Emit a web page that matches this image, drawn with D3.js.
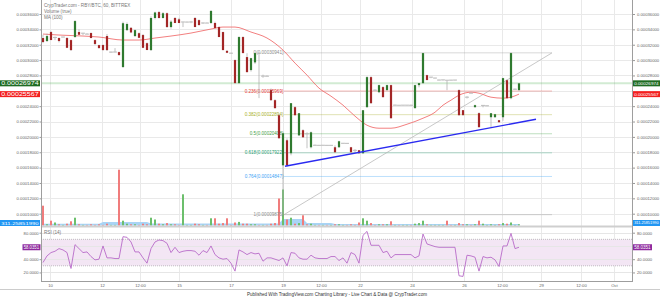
<!DOCTYPE html>
<html>
<head>
<meta charset="utf-8">
<script src="https://cdn.jsdelivr.net/npm/d3@7"></script>
<style>
  body { margin: 0; background: #fff; }
  svg { display: block; font-family: "Liberation Sans", Arial, sans-serif; }
</style>
</head>
<body>
<div id="chart"></div>
<script>
// prices are in satoshi (1e-8 BTC), one candle per slot: [open, high, low, close]
const candles = [
  [32870,33300,32200,32350],[32480,33450,32350,33130],[33650,33800,32600,32610],[32900,33050,32600,32950],
  [32870,32950,32300,32480],[32990,33050,32950,33000],[32870,33000,31560,31600],[32600,32700,31200,31300],
  [33000,35200,32900,35080],[33650,34000,33250,33300],[33400,33550,33250,33500],[33400,33500,33350,33380],
  [33520,33600,32850,32870],[32600,32700,31950,32100],[31950,32000,31500,31560],[31960,32050,31250,31300],
  [33130,33400,31200,31300],[31040,31100,30950,31040],[31040,31560,31000,31050],[31040,31100,30600,30650],
  [29090,35000,29000,34800],[33900,34900,33800,34700],[34200,34300,33500,33600],[33130,34000,33000,33900],
  [33500,33600,32850,32900],[33260,33400,31550,31600],[32200,32300,31300,31310],[31300,35700,31200,35480],
  [35480,36300,35300,36200],[36250,36400,35400,35480],[35480,36250,35400,36100],[36100,36200,34200,34300],
  [34300,35200,34100,35000],[35480,35600,34800,34830],[35300,35500,34800,34830],[34900,35000,34300,34960],
  [34950,35000,34900,34950],[34950,35100,34800,34960],[35480,35600,34300,34300],[35200,35300,34500,34560],
  [34830,34900,34700,34830],[34830,34900,34800,34820],[34830,36500,34700,36400],[34830,35000,34100,34170],
  [34300,34400,33000,33000],[33650,33700,31300,31300],[31200,31300,30900,30950],[30910,30950,30850,30900],
  [30000,30100,26950,27000],[27000,33100,26900,33000],[33000,33100,30900,30910],[30390,30900,28400,28430],
  [28700,30300,28500,30250],[29700,31000,29500,30910],[30910,30950,25050,30900],[27900,28100,27700,27910],
  [27910,28000,27850,27900],[26090,26300,24700,24780],[24780,24900,23700,23740],[22820,23000,19800,19820],
  [16300,20500,9875,20470],[19560,19800,16170,16300],[17870,24400,17600,24390],[23870,24000,22800,22820],
  [20200,23100,20100,23080],[20870,21000,19900,19950],[20470,20600,18520,20400],[18650,20700,18500,20600],
  [18900,19000,18850,18910],[18910,18950,18880,18900],[18900,18950,18880,18910],[18910,18950,18880,18900],
  [18900,18950,18880,18900],[18650,18900,17950,18000],[18650,19500,18600,19430],[19170,19200,19100,19170],
  [19170,19200,19150,19160],[18650,18700,17990,18000],[18260,18400,18000,18250],[18260,18300,17800,17870],
  [17870,23500,17800,23470],[23870,27900,23800,27780],[27780,27900,24300,24390],[26090,26200,26000,26080],
  [25820,26800,25700,26740],[26480,26600,25150,25170],[26090,26800,26000,26740],[26740,26800,22400,22430],
  [24130,24200,24100,24130],[24130,24150,24100,24120],[24120,24150,24100,24130],[24130,24150,24100,24130],
  [24130,24200,24050,24120],[23740,26800,23700,26740],[26740,27000,26450,27000],[27000,30950,26900,30910],
  [28040,28100,27380,27400],[27700,27800,27650,27780],[27650,27700,27600,27660],[27390,27450,27350,27400],
  [27400,27450,27350,27420],[27390,27400,26080,27380],[27400,27420,27350,27390],[27390,27420,27350,27400],
  [26090,26200,22800,22820],[23480,23500,22800,22830],[25040,25300,25000,25170],[25700,25750,25650,25690],
  [23870,24200,23800,24130],[23090,23200,21250,21260],[24000,24150,23850,24100],[24050,24100,24000,24050],
  [22560,23100,21250,23080],[22560,23000,22500,22950],[22170,22200,21900,21910],[22560,27700,22100,27650],
  [27380,27500,25000,25040],[25040,31000,24900,30910],[26200,26300,26100,26210],[26090,27000,26000,26974]
];

const volume = [
  33,2,8,5,2,1,3,7,13,2,1,1,2,1,2,1,3,1,1,93,
  8,3,2,2,1,3,2,13,10,3,2,4,2,2,1,52,1,1,3,2,
  1,1,12,12,3,4,12,1,5,6,3,3,2,2,1,1,1,3,4,45,
  60,10,13,3,4,17,2,3,1,1,1,1,1,2,2,1,1,2,1,5,
  12,8,4,1,2,2,2,7,1,1,1,1,1,3,4,8,2,1,1,1,
  1,8,1,1,4,2,2,1,2,8,3,1,2,1,2,4,3,5,1,2
];

const rsi = [
  35,45,50,52,56,54,50,26,62,56,50,51,44,39,40,60,42,42,41,41,
  74,73,66,51,51,42,34,56,66,69,68,64,50,58,50,52,53,53,52,46,
  53,50,60,47,42,40,41,34,22,54,51,47,50,48,49,37,42,42,40,38,
  42,30,50,49,42,40,40,46,42,41,41,41,44,44,38,42,34,50,47,34,
  76,82,61,61,61,50,52,42,47,47,47,47,47,42,45,78,63,61,59,58,
  58,58,58,58,15,14,46,45,43,22,44,42,43,39,29,60,60,79,56,58.0351
];

// MA(100): [slot, price]
const ma100 = [
  [0,33390],[4,33260],[10,33130],[14,33000],[20,32610],[24,32610],[28,32870],[32,33130],
  [37,33520],[42,34040],[45,34300],[48,34300],[52,33650],[56,32870],[60,31300],[63,29610],
  [66,28040],[69,26350],[72,25300],[75,24130],[78,22700],[81,21520],[84,21130],[87,21130],
  [91,21650],[95,22430],[98,23210],[100,24130],[102,24780],[104,25430],[107,25820],[109,25690],
  [112,25170],[115,25040],[117,25170],[119,25567]
];

// volume MA: [slot, volume]
const volMa = [
  [0,3],[14,3],[15,6],[26,6],[27,3.5],[59,3.5],[60,11],[65,11],[66,4],[72,4],[73,2.5],[119,2.5]
];

const priceTicks = d3.range(10000, 36001, 2000);
const rsiTicks = [20, 40, 60, 80];
const timeTickIdx = [1.75, 14.75, 24.25, 34, 47, 60, 69.5, 79.25, 92.25, 105.25, 114.75, 124.5, 134.5, 142.75];
const timeTickLabels = ["10", "12", "12:00", "15", "17", "19", "12:00", "22", "24", "26", "12:00", "29", "12:00", "Oct"];

const fibLevels = [0, 0.236, 0.382, 0.5, 0.618, 0.764, 1];
const fibHigh = 30941, fibLow = 9875;
const fibFrom = 60.25, fibTo = 127.25;
const trendLine = [[60.5, 16170], [123.25, 22300]];

const lastPrice = 26974, lastMa = 25567, lastRsi = 58.0351, lastVolMa = "311.25851990";

// ---------- layout ----------
const W = 660, H = 304;
const plotL = 41, plotR = 632;
const mainBot = 226, rsiTop = 228, rsiBot = 281;
const font = "'Liberation Sans', Arial, sans-serif";

const x = d3.scaleLinear().domain([-0.5, 147.25]).range([plotL, plotR]);
const y = d3.scaleLinear().domain([10000, 36000]).range([213.7, 14]);
const yVol = d3.scaleLinear().domain([0, 100]).range([225.5, 165.5]);
const yRsi = d3.scaleLinear().domain([0, 100]).range([285.7, 219.45]);
const fmt = v => (v * 1e-8).toFixed(8);

const fibColors = ["#8c8c8c", "#e53935", "#a8b02a", "#43a047", "#1f9e72", "#42a5f5", "#8c8c8c"];

// tick labels hidden behind the value tags
const priceLabelTicks = priceTicks.filter(t =>
    Math.abs(y(t) - y(lastPrice)) > 6 && Math.abs(y(t) - y(lastMa)) > 6);
const rsiLabelTicks = rsiTicks.filter(t => Math.abs(yRsi(t) - yRsi(lastRsi)) > 6);

const svg = d3.select("#chart").append("svg")
    .attr("width", W)
    .attr("height", H);

const defs = svg.append("defs");
defs.append("clipPath").attr("id", "mainClip").append("rect")
    .attr("x", plotL).attr("y", 0).attr("width", plotR - plotL).attr("height", mainBot);
defs.append("clipPath").attr("id", "rsiClip").append("rect")
    .attr("x", plotL).attr("y", rsiTop).attr("width", plotR - plotL).attr("height", rsiBot - rsiTop);

// grid
svg.append("g").selectAll("line").data(timeTickIdx).join("line")
    .attr("x1", d => Math.round(x(d)) + 0.5).attr("x2", d => Math.round(x(d)) + 0.5)
    .attr("y1", 0).attr("y2", rsiBot)
    .attr("stroke", "#e9e9e9");

svg.append("g").attr("clip-path", "url(#mainClip)")
    .selectAll("line").data(priceTicks).join("line")
    .attr("x1", plotL).attr("x2", plotR)
    .attr("y1", d => Math.round(y(d)) + 0.5).attr("y2", d => Math.round(y(d)) + 0.5)
    .attr("stroke", "#e9e9e9");

// RSI band + grid
svg.append("rect")
    .attr("x", plotL).attr("width", plotR - plotL)
    .attr("y", yRsi(70)).attr("height", yRsi(30) - yRsi(70))
    .attr("fill", "#f3e6f4");

svg.append("g").selectAll("line").data(rsiTicks).join("line")
    .attr("x1", plotL).attr("x2", plotR)
    .attr("y1", d => Math.round(yRsi(d)) + 0.5).attr("y2", d => Math.round(yRsi(d)) + 0.5)
    .attr("stroke", "#e6e6e6");

svg.append("g").selectAll("line").data([70, 30]).join("line")
    .attr("x1", plotL).attr("x2", plotR)
    .attr("y1", d => yRsi(d)).attr("y2", d => yRsi(d))
    .attr("stroke", "#9a9a9a").attr("stroke-width", 0.6)
    .attr("stroke-dasharray", "1,1");

// main pane content
const main = svg.append("g").attr("clip-path", "url(#mainClip)");

// volume
main.append("path")
    .datum(volMa)
    .attr("fill", "#a9d4f5")
    .attr("d", d3.area().x(d => x(d[0])).y0(yVol(0)).y1(d => yVol(d[1])));

main.selectAll("rect.vol").data(volume).join("rect")
    .attr("class", "vol")
    .attr("x", (d, i) => x(i) - 1)
    .attr("width", 2)
    .attr("y", d => yVol(d))
    .attr("height", d => yVol(0) - yVol(d))
    .attr("fill", (d, i) => candles[i][3] >= candles[i][0] ? "#6cbf6c" : "#f07c7c");

// current price line
main.append("line")
    .attr("x1", plotL).attr("x2", plotR)
    .attr("y1", y(lastPrice)).attr("y2", y(lastPrice))
    .attr("stroke", "#4caf50").attr("stroke-opacity", 0.25).attr("stroke-width", 2);

// fibonacci retracement
const fib = main.append("g");
fib.selectAll("line").data(fibLevels).join("line")
    .attr("x1", x(fibFrom)).attr("x2", x(fibTo))
    .attr("y1", d => y(fibHigh - d * (fibHigh - fibLow)))
    .attr("y2", d => y(fibHigh - d * (fibHigh - fibLow)))
    .attr("stroke", (d, i) => fibColors[i]).attr("stroke-opacity", 0.35).attr("stroke-width", 1);
fib.append("line")
    .attr("x1", x(fibFrom)).attr("y1", y(fibLow))
    .attr("x2", x(fibTo)).attr("y2", y(fibHigh))
    .attr("stroke", "#b0b0b0").attr("stroke-width", 0.7);
fib.selectAll("text").data(fibLevels).join("text")
    .attr("x", x(fibFrom) - 0.5)
    .attr("y", d => y(fibHigh - d * (fibHigh - fibLow)))
    .attr("dy", "0.35em")
    .attr("text-anchor", "end")
    .attr("font-size", 4.6)
    .attr("fill", (d, i) => fibColors[i])
    .text(d => `${d}(${fmt(Math.round(fibHigh - d * (fibHigh - fibLow)))})`);

// MA(100)
main.append("path")
    .datum(ma100)
    .attr("fill", "none")
    .attr("stroke", "#f07070")
    .attr("stroke-width", 0.9)
    .attr("d", d3.line().x(d => x(d[0])).y(d => y(d[1])).curve(d3.curveMonotoneX));

// candles
const cg = main.selectAll("g.candle").data(candles).join("g").attr("class", "candle");
cg.append("line")
    .attr("x1", (d, i) => x(i)).attr("x2", (d, i) => x(i))
    .attr("y1", d => y(d[1])).attr("y2", d => y(d[2]))
    .attr("stroke", "#a8a8a8").attr("stroke-width", 0.7);
cg.each(function(d, i) {
    const [o, h, l, c] = d;
    const g = d3.select(this);
    const top = y(Math.max(o, c)), bot = y(Math.min(o, c));
    if (bot - top < 1.2) {
        g.append("line")
            .attr("x1", x(i) - 2).attr("x2", x(i) + 2)
            .attr("y1", y(c)).attr("y2", y(c))
            .attr("stroke", "#bdbdbd").attr("stroke-width", 1);
    } else {
        g.append("rect")
            .attr("x", x(i) - 1.1).attr("width", 2.2)
            .attr("y", top).attr("height", bot - top)
            .attr("fill", c > o ? "#2f7a2f" : "#a32626");
    }
});

// trend line
main.append("line")
    .attr("x1", x(trendLine[0][0])).attr("y1", y(trendLine[0][1]))
    .attr("x2", x(trendLine[1][0])).attr("y2", y(trendLine[1][1]))
    .attr("stroke", "#2a2af0").attr("stroke-width", 1.4);

// RSI line
svg.append("g").attr("clip-path", "url(#rsiClip)")
    .append("path")
    .datum(rsi)
    .attr("fill", "none")
    .attr("stroke", "#b86bc8")
    .attr("stroke-width", 0.9)
    .attr("d", d3.line().x((d, i) => x(i)).y(d => yRsi(d)));

// frame
svg.append("line").attr("x1", plotL).attr("x2", plotR).attr("y1", 226.5).attr("y2", 226.5)
    .attr("stroke", "#cfcfcf").attr("stroke-width", 2);
svg.append("line").attr("x1", plotL + 0.5).attr("x2", plotL + 0.5).attr("y1", 0).attr("y2", rsiBot)
    .attr("stroke", "#9e9e9e");
svg.append("line").attr("x1", plotR + 0.5).attr("x2", plotR + 0.5).attr("y1", 0).attr("y2", rsiBot)
    .attr("stroke", "#9e9e9e");
svg.append("line").attr("x1", plotL).attr("x2", plotR + 1).attr("y1", rsiBot + 0.5).attr("y2", rsiBot + 0.5)
    .attr("stroke", "#9e9e9e");

// axes
function styleAxis(g, size) {
    g.select(".domain").remove();
    g.attr("font-family", font).attr("font-size", size);
    g.selectAll("text").attr("fill", "#666");
    g.selectAll("line").attr("stroke", "#999");
}

svg.append("g").attr("transform", `translate(${plotL},0)`)
    .call(d3.axisLeft(y).tickValues(priceLabelTicks).tickFormat(fmt).tickSize(1.5).tickPadding(0.8))
    .call(g => styleAxis(g, 4.2));
svg.append("g").attr("transform", `translate(${plotR + 1},0)`)
    .call(d3.axisRight(y).tickValues(priceLabelTicks).tickFormat(fmt).tickSize(2).tickPadding(2))
    .call(g => styleAxis(g, 4.2));
svg.append("g").attr("transform", `translate(${plotL},0)`)
    .call(d3.axisLeft(yRsi).tickValues(rsiLabelTicks).tickFormat(d => d.toFixed(4)).tickSize(1.5).tickPadding(0.8))
    .call(g => styleAxis(g, 4.2));
svg.append("g").attr("transform", `translate(${plotR + 1},0)`)
    .call(d3.axisRight(yRsi).tickValues(rsiLabelTicks).tickFormat(d => d.toFixed(4)).tickSize(2).tickPadding(2))
    .call(g => styleAxis(g, 4.2));
svg.append("g").attr("transform", `translate(0,${rsiBot})`)
    .call(d3.axisBottom(x).tickValues(timeTickIdx).tickFormat((d, i) => timeTickLabels[i]).tickSize(0).tickPadding(3))
    .call(g => styleAxis(g, 4.2));

// value tags
function tag(xPos, yPos, w, fill, label, size) {
    const g = svg.append("g");
    g.append("rect").attr("x", xPos).attr("y", yPos - 3).attr("width", w).attr("height", 6).attr("fill", fill);
    g.append("text").attr("x", xPos + 1.2).attr("y", yPos).attr("dy", "0.36em")
        .attr("font-size", size).attr("fill", "#fff")
        .attr("textLength", w - 2.6).attr("lengthAdjust", "spacingAndGlyphs")
        .text(label);
}
tag(0, y(lastPrice), 40, "#1e6b22", fmt(lastPrice), 4.8);
tag(0, y(lastMa), 40, "#f31f1f", fmt(lastMa), 4.8);
tag(633, y(lastPrice), 27, "#1e6b22", fmt(lastPrice), 4.2);
tag(633, y(lastMa), 27, "#f31f1f", fmt(lastMa), 4.2);
tag(0, 223, 40, "#2196f3", lastVolMa, 4.4);
tag(633, 223, 27, "#2196f3", lastVolMa, 3.8);
tag(22.5, yRsi(lastRsi), 18, "#8e2a9e", lastRsi.toFixed(4), 4.8);
tag(633, yRsi(lastRsi), 19, "#8e2a9e", lastRsi.toFixed(4), 4.8);

// legends
const legend = svg.append("g").attr("font-size", 4.6).attr("fill", "#777");
legend.append("text").attr("x", 44).attr("y", 6.6).text("CrypTrader.com - RBY/BTC, 60, BITTREX");
legend.append("text").attr("x", 44).attr("y", 12.6).text("Volume (true)");
legend.append("text").attr("x", 44).attr("y", 18.6).text("MA (100)");
legend.append("text").attr("x", 44).attr("y", 233.8).text("RSI (14)");

// footer
svg.append("line").attr("x1", 0).attr("x2", W).attr("y1", 289.5).attr("y2", 289.5)
    .attr("stroke", "#cccccc");
svg.append("text")
    .attr("x", 247).attr("y", 295.8)
    .attr("font-size", 4.6).attr("fill", "#333")
    .attr("textLength", 180).attr("lengthAdjust", "spacingAndGlyphs")
    .text("Published With TradingView.com Charting Library - Live Chart & Data @ CrypTrader.com");
</script>
</body>
</html>
